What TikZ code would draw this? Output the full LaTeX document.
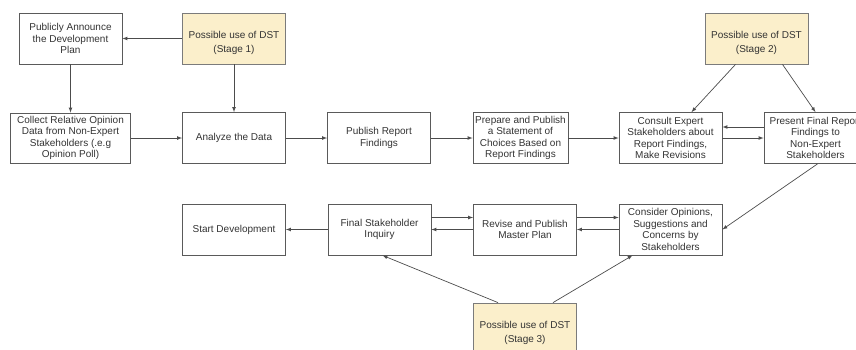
\documentclass[tikz,border=0pt]{standalone}
\usepackage{fontspec}
\setmainfont{Liberation Sans}
\definecolor{dstfill}{HTML}{FBEFCB}
\definecolor{boxline}{HTML}{5A5A5A}
\definecolor{txt}{HTML}{333333}

\begin{document}
\begin{tikzpicture}
  [x=1pt,y=-1pt,auto=center,
   every node/.style={draw=boxline,line width=0.8pt,rectangle,align=center,
     minimum width=103pt,minimum height=51pt,inner sep=1pt,text=txt,
     font=\fontsize{10}{11.5}\selectfont},
   dst/.style={fill=dstfill,draw=boxline!80},
   flow/.style={draw=black!70,line width=0.7pt,->,>=latex}]
  \clip (0,0) rectangle (856,349);
  % top row
  \node (ann) at (70.5,38.5) {Publicly Announce\\the Development\\Plan};
  \node[dst] (dst1) at (234,38.5) {\rule{0pt}{16pt}Possible use of DST\\[2pt](Stage 1)};
  \node[dst] (dst2) at (756.5,38.5) {\rule{0pt}{16pt}Possible use of DST\\[2pt](Stage 2)};
  % middle row
  \node[minimum width=120pt,minimum height=50pt] (col) at (70.5,138) {Collect Relative Opinion\\Data from Non-Expert\\Stakeholders (.e.g\\Opinion Poll)};
  \node (ana) at (234,138) {Analyze the Data};
  \node (pub) at (379,138) {Publish Report\\Findings};
  \node[minimum width=95pt] (pre) at (520.5,138) {Prepare and Publish\\a Statement of\\Choices Based on\\Report Findings};
  \node (con) at (670.5,138) {Consult Expert\\Stakeholders about\\Report Findings,\\Make Revisions};
  \node (pres) at (815.5,138) {Present Final Report\\Findings to\\Non-Expert\\Stakeholders};
  % bottom row
  \node (sta) at (234,229.5) {Start Development};
  \node (fin) at (379.5,229.5) {Final Stakeholder\\Inquiry};
  \node (rev) at (525,229.5) {Revise and Publish\\Master Plan};
  \node (cns) at (670.5,229.5) {Consider Opinions,\\Suggestions and\\Concerns by\\Stakeholders};
  \node[dst] (dst3) at (525,328.5) {\rule{0pt}{16pt}Possible use of DST\\[2pt](Stage 3)};
  % connectors
  \foreach \from/\to in {dst1/ann,ann/col,dst1/ana,col/ana,ana/pub,pub/pre,pre/con,con/pres,fin/sta}
    \draw[flow] (\from) -- (\to);
  \draw[flow] ([yshift=11pt]pres.west) -- ([yshift=11pt]con.east);
  \draw[flow] ([yshift=12pt]fin.east) -- ([yshift=12pt]rev.west);
  \draw[flow] (rev.west) -- (fin.east);
  \draw[flow] ([yshift=12pt]rev.east) -- ([yshift=12pt]cns.west);
  \draw[flow] (cns.west) -- (rev.east);
  \draw[flow] ([xshift=-21pt]dst2.south) -- ([xshift=21pt]con.north);
  \draw[flow] ([xshift=26pt]dst2.south) -- (pres.north);
  \draw[flow] ([xshift=2pt]pres.south) -- (cns.east);
  \draw[flow] ([xshift=-27pt]dst3.north) -- ([xshift=3pt]fin.south);
  \draw[flow] ([xshift=28pt]dst3.north) -- ([xshift=-38pt]cns.south);
\end{tikzpicture}
\end{document}
